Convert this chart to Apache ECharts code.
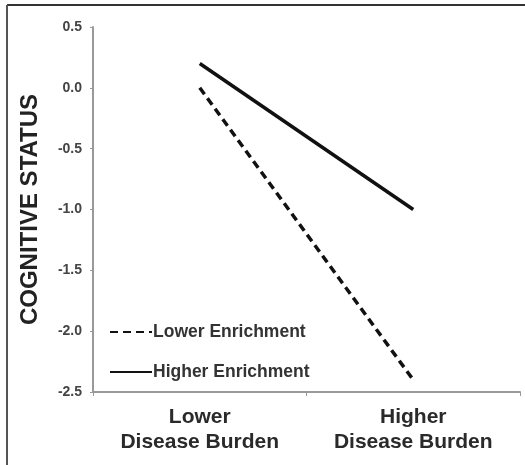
<!DOCTYPE html>
<html>
<head>
<meta charset="utf-8">
<script src="https://cdn.jsdelivr.net/npm/echarts@6/dist/echarts.min.js"></script>
<style>
html,body{margin:0;padding:0;background:#fff;}
#c{width:525px;height:465px;}
</style>
</head>
<body>
<div id="c"></div>
<script>
var categories = ['Lower\nDisease Burden', 'Higher\nDisease Burden'];
var lowerEnrichment = [0.0, -2.4];
var higherEnrichment = [0.2, -1.0];
var seriesNames = ['Lower Enrichment', 'Higher Enrichment'];

var chart = echarts.init(document.getElementById('c'));
var font = '"Liberation Sans", Arial, sans-serif';
chart.setOption({
  animation: false,
  backgroundColor: '#fff',
  graphic: [
    { type: 'line', shape: { x1: 7, y1: 5, x2: 525, y2: 5 }, style: { stroke: '#333', lineWidth: 2 } },
    { type: 'line', shape: { x1: 7, y1: 5, x2: 7, y2: 465 }, style: { stroke: '#555', lineWidth: 2 } }
  ],
  grid: { left: 93, right: 5, top: 27, bottom: 73 },
  legend: {
    orient: 'vertical',
    left: 104,
    top: 318,
    itemGap: 22,
    itemWidth: 42,
    itemHeight: 20,
    itemStyle: { opacity: 0 },
    textStyle: { fontFamily: font, fontWeight: 'bold', fontSize: 17.5, color: '#333', padding: [0, 0, 0, -4] },
    data: seriesNames
  },
  xAxis: {
    type: 'category',
    data: categories,
    boundaryGap: true,
    axisLine: { onZero: false, lineStyle: { color: '#999', width: 2 } },
    axisTick: { show: true, length: 4, lineStyle: { color: '#999' } },
    axisLabel: { fontFamily: font, fontWeight: 'bold', fontSize: 21, color: '#2a2a2a', lineHeight: 25, margin: 13 }
  },
  yAxis: {
    type: 'value',
    min: -2.5, max: 0.5, interval: 0.5,
    name: 'COGNITIVE STATUS',
    nameLocation: 'middle',
    nameRotate: 90,
    nameGap: 51,
    nameTextStyle: { fontFamily: font, fontWeight: 'bold', fontSize: 24, color: '#222' },
    splitLine: { show: false },
    axisLine: { show: true, lineStyle: { color: '#999', width: 2 } },
    axisTick: { show: true, length: 3, lineStyle: { color: '#999' } },
    axisLabel: { fontFamily: font, fontWeight: 'bold', fontSize: 14, color: '#444', margin: 11,
      formatter: function (v) { return v.toFixed(1); } }
  },
  series: [
    { name: seriesNames[0], type: 'line', data: lowerEnrichment, symbol: 'none',
      lineStyle: { color: '#111', width: 3.5, type: [8, 5] }, itemStyle: { color: '#111' } },
    { name: seriesNames[1], type: 'line', data: higherEnrichment, symbol: 'none',
      lineStyle: { color: '#111', width: 3.5, type: 'solid' }, itemStyle: { color: '#111' } }
  ]
});
</script>
</body>
</html>
